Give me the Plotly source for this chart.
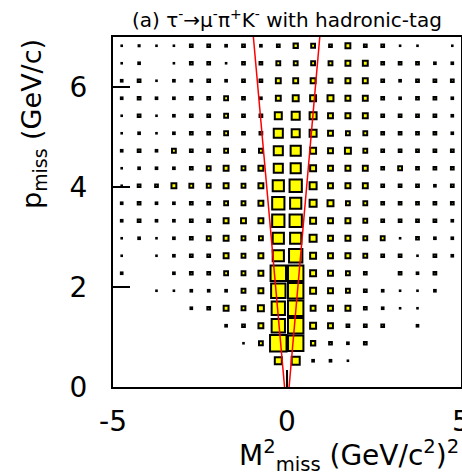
import numpy as np
import plotly.graph_objects as go

# ---------------- data ----------------
# M^2_miss bins (GeV/c^2)^2 and p_miss bins (GeV/c)
M2_RANGE = [-5.0, 5.0]
P_RANGE = [0.0, 7.0]
N_BINS_X = 20
N_BINS_Y = 20

# bin contents, rows from lowest p_miss bin (row 0) to highest (row 19),
# columns from M2 = -5 to +5
COUNTS = [
    [0, 0, 0, 0, 0, 0, 0, 0, 0, 0, 0, 0, 0, 0, 0, 0, 0, 0, 0, 0],
    [0, 0, 0, 0, 0, 0, 0, 0, 0, 64, 81, 9, 9, 4, 0, 0, 0, 0, 0, 0],
    [0, 0, 0, 0, 0, 0, 0, 4, 25, 289, 256, 30, 16, 9, 16, 0, 0, 0, 0, 0],
    [0, 0, 0, 0, 0, 0, 9, 16, 36, 196, 256, 49, 36, 16, 16, 16, 0, 9, 0, 0],
    [0, 0, 0, 0, 9, 16, 36, 25, 49, 196, 256, 36, 36, 36, 16, 9, 4, 4, 0, 0],
    [0, 0, 4, 4, 9, 9, 9, 25, 36, 225, 256, 49, 36, 25, 16, 9, 4, 4, 9, 0],
    [9, 0, 0, 9, 16, 16, 25, 25, 36, 256, 256, 49, 36, 25, 16, 0, 16, 9, 16, 0],
    [4, 0, 4, 9, 16, 16, 36, 25, 36, 144, 196, 49, 36, 36, 25, 16, 16, 4, 16, 9],
    [4, 9, 4, 9, 16, 25, 36, 25, 25, 144, 144, 64, 36, 36, 25, 25, 4, 16, 9, 9],
    [9, 16, 9, 9, 16, 16, 36, 36, 36, 169, 169, 49, 36, 36, 25, 16, 16, 16, 16, 9],
    [9, 16, 9, 9, 16, 16, 25, 25, 36, 169, 144, 64, 49, 25, 25, 16, 16, 16, 16, 16],
    [4, 16, 16, 36, 25, 25, 36, 25, 36, 144, 169, 64, 36, 36, 36, 16, 16, 16, 9, 16],
    [4, 9, 9, 9, 16, 25, 36, 25, 36, 100, 121, 49, 36, 36, 36, 16, 25, 16, 16, 16],
    [9, 16, 9, 25, 16, 16, 25, 16, 25, 100, 121, 49, 36, 49, 25, 16, 16, 16, 16, 16],
    [4, 9, 4, 9, 16, 16, 25, 16, 16, 100, 81, 64, 36, 25, 25, 16, 16, 16, 16, 9],
    [4, 16, 4, 9, 16, 16, 25, 16, 16, 64, 81, 64, 36, 36, 36, 16, 16, 16, 16, 9],
    [9, 16, 9, 9, 16, 16, 25, 16, 9, 36, 49, 49, 49, 36, 36, 16, 9, 16, 16, 9],
    [9, 16, 4, 9, 9, 16, 9, 16, 16, 36, 36, 36, 25, 36, 36, 16, 9, 16, 16, 16],
    [4, 9, 0, 4, 16, 16, 4, 16, 16, 25, 25, 25, 25, 36, 36, 16, 16, 16, 9, 9],
    [4, 6, 4, 4, 16, 16, 9, 16, 9, 16, 30, 25, 16, 36, 16, 16, 4, 4, 0, 4],
]
CMAX = 270.0

# signal-region boundaries: M2 = intercept + slope * p_miss
CUT_LOW = (-0.07, -0.128)
CUT_HIGH = (0.06, 0.126)

X_TICKS = [-5, 0, 5]
Y_TICKS = [0, 2, 4, 6]

TITLE = "(a) τ<sup>-</sup>→μ<sup>-</sup>π<sup>+</sup>K<sup>-</sup> with hadronic-tag"
X_TITLE = "M<sup>2</sup><sub>miss</sub> (GeV/c<sup>2</sup>)<sup>2</sup>"
Y_TITLE = "p<sub>miss</sub> (GeV/c)"

# ---------------- layout constants ----------------
W, H = 462, 474
ML, MR, MT, MB = 113, 1, 37, 87
PLOT_W = W - ML - MR
PLOT_H = H - MT - MB
FONT = "DejaVu Sans, Liberation Sans, Arial, sans-serif"
LW = 2.0

counts = np.array(COUNTS, dtype=float)
xedges = np.linspace(M2_RANGE[0], M2_RANGE[1], N_BINS_X + 1)
yedges = np.linspace(P_RANGE[0], P_RANGE[1], N_BINS_Y + 1)
xc = 0.5 * (xedges[:-1] + xedges[1:])
yc = 0.5 * (yedges[:-1] + yedges[1:])
bin_px = min(PLOT_W / N_BINS_X, PLOT_H / N_BINS_Y)

xs, ys, sizes = [], [], []
for j in range(N_BINS_Y):
    for i in range(N_BINS_X):
        c = counts[j, i]
        if c <= 0:
            continue
        outer = bin_px * np.sqrt(c / CMAX)
        xs.append(xc[i])
        ys.append(yc[j])
        sizes.append(max(outer - 0.75 * LW, 0.6))

fig = go.Figure()
fig.add_trace(go.Scatter(
    x=xs, y=ys, mode="markers",
    marker=dict(symbol="square", size=sizes, color="#ffff00", opacity=1,
                line=dict(color="black", width=LW)),
    hoverinfo="skip", showlegend=False,
))

pline = np.array(P_RANGE)
for a, b in (CUT_LOW, CUT_HIGH):
    fig.add_trace(go.Scatter(
        x=a + b * pline, y=pline, mode="lines",
        line=dict(color="#ff0000", width=1.5),
        hoverinfo="skip", showlegend=False,
    ))

axis_common = dict(
    showgrid=False, zeroline=False, showline=True, mirror=True,
    linecolor="black", linewidth=2, ticks="inside", ticklen=17,
    tickwidth=1.5, tickcolor="black", ticklabeloverflow="allow",
    automargin=False,
    tickfont=dict(family=FONT, size=28, color="black"),
)
fig.update_xaxes(range=M2_RANGE, tickvals=X_TICKS, ticktext=[str(v) for v in X_TICKS],
                 ticklabelstandoff=8, **axis_common)
fig.update_yaxes(range=P_RANGE, tickvals=Y_TICKS, ticktext=[str(v) for v in Y_TICKS],
                 ticklabelstandoff=18, **axis_common)

fig.update_layout(
    width=W, height=H,
    margin=dict(l=ML, r=MR, t=MT, b=MB, autoexpand=False),
    paper_bgcolor="white", plot_bgcolor="white",
    font=dict(family=FONT, color="black"),
    annotations=[
        dict(text=TITLE, xref="paper", yref="paper", x=0.5, y=(PLOT_H + 18) / PLOT_H,
             xanchor="center", yanchor="middle", showarrow=False,
             font=dict(family=FONT, size=20, color="black")),
        dict(text=X_TITLE, xref="paper", yref="paper", x=1.0, y=-68 / PLOT_H,
             xanchor="right", yanchor="middle", showarrow=False,
             font=dict(family=FONT, size=28, color="black")),
        dict(text=Y_TITLE, xref="paper", yref="paper", x=-80 / PLOT_W, y=1.0,
             xanchor="center", yanchor="top", textangle=-90, showarrow=False,
             font=dict(family=FONT, size=27, color="black")),
    ],
)

fig.write_html("out.html")
